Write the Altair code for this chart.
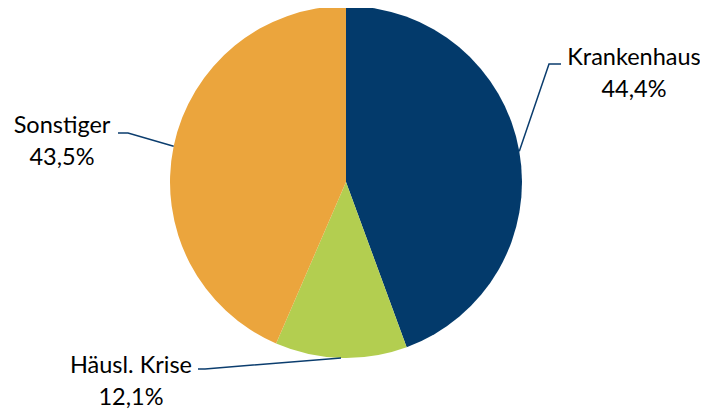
import math
import altair as alt
import pandas as pd

categories = ["Krankenhaus", "Häusl. Krise", "Sonstiger"]
values = [44.4, 12.1, 43.5]
value_labels = ["44,4%", "12,1%", "43,5%"]
colors = ["#033A6B", "#B3CE50", "#EBA53D"]

# layout (style) constants
W, H = 692, 402
CX, CY, R = 338, 174, 176
FONT = "Lato"
FS = 23.5
LINE_COLOR = "#0B3D6E"
label_anchor = {  # center x, first-line baseline
    "Krankenhaus": (626, 57),
    "Häusl. Krise": (123, 365),
    "Sonstiger": (54, 125),
}
leader_tail = {  # elbow and end points of leader lines
    "Krankenhaus": [(541, 56), (553, 56)],
    "Häusl. Krise": [(197, 361), (190, 361)],
    "Sonstiger": [(120, 125), (110, 125)],
}

df = pd.DataFrame({"cat": categories, "val": values, "idx": range(len(categories))})

total = sum(values)
cum = 0.0
line_rows = []
text_rows = []
for c, v, lab in zip(categories, values, value_labels):
    mid = (cum + v / 2) / total * 2 * math.pi
    cum += v
    sx = CX + R * math.sin(mid)
    sy = CY - R * math.cos(mid)
    pts = [(sx, sy)] + leader_tail[c]
    for k, (px, py) in enumerate(pts):
        line_rows.append({"cat": c, "k": k, "px": px, "py": py})
    ax, ay = label_anchor[c]
    text_rows.append({"cat": c, "px": ax, "py": ay, "txt": c + "\n" + lab})

lines_df = pd.DataFrame(line_rows)
text_df = pd.DataFrame(text_rows)

xs = alt.Scale(domain=[0, W], range=[0, W])
ys = alt.Scale(domain=[0, H], range=[0, H])

pie = alt.Chart(df).mark_arc(radius=R).encode(
    theta=alt.Theta("val:Q", stack=True),
    order=alt.Order("idx:Q"),
    color=alt.Color("cat:N", scale=alt.Scale(domain=categories, range=colors), legend=None),
    x=alt.value(CX),
    y=alt.value(CY),
)

leaders = alt.Chart(lines_df).mark_line(color=LINE_COLOR, strokeWidth=1.5).encode(
    x=alt.X("px:Q", scale=xs, axis=None),
    y=alt.Y("py:Q", scale=ys, axis=None),
    detail="cat:N",
    order="k:Q",
)

labels = alt.Chart(text_df).mark_text(
    font=FONT, fontSize=FS, color="#000000", align="center", baseline="alphabetic",
    lineBreak="\n", lineHeight=32,
).encode(
    x=alt.X("px:Q", scale=xs, axis=None),
    y=alt.Y("py:Q", scale=ys, axis=None),
    text="txt:N",
)

chart = alt.layer(pie, leaders, labels).properties(
    width=W, height=H, padding=0, autosize="none"
).configure_view(stroke=None)

chart.save("out.html", embed_options={"renderer": "svg", "actions": False})
